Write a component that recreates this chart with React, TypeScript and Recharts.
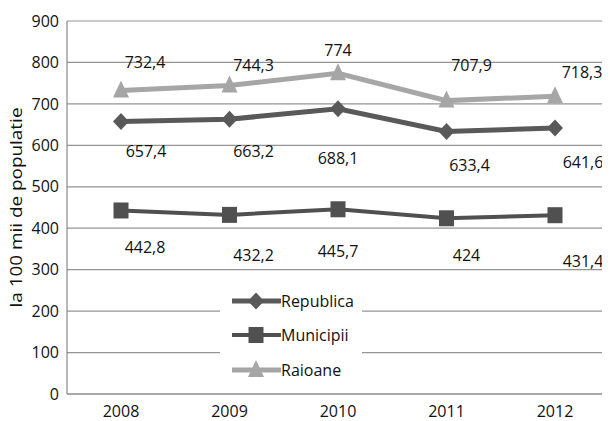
import {
  LineChart,
  Line,
  XAxis,
  YAxis,
  CartesianGrid,
  LabelList,
} from "recharts";

const years = ["2008", "2009", "2010", "2011", "2012"];
const republica = [657.4, 663.2, 688.1, 633.4, 641.6];
const municipii = [442.8, 432.2, 445.7, 424, 431.4];
const raioane = [732.4, 744.3, 774, 707.9, 718.3];
const yTicks = [0, 100, 200, 300, 400, 500, 600, 700, 800, 900];

const data = years.map((year, i) => ({
  year,
  republica: republica[i],
  municipii: municipii[i],
  raioane: raioane[i],
}));

// label nudges (dx, dy from the point)
const labelOffsets: Record<string, [number, number][]> = {
  raioane: [[24, -28], [24, -21], [0, -23], [25, -36], [27, -24]],
  republica: [[25, 29], [24, 32], [0, 49], [23, 34], [28, 34]],
  municipii: [[24, 37], [24, 40], [0, 42], [20, 37], [28, 46]],
};

const DARK = "#595959";
const MID = "#505050";
const LIGHT = "#a6a6a6";
const FONT = "'Open Sans', sans-serif";

const fmt = (v: number) => String(v).replace(".", ",");

const Marker = ({ kind, cx, cy, color }: { kind: string; cx: number; cy: number; color: string }) => {
  if (kind === "diamond") {
    return (
      <polygon
        points={`${cx},${cy - 8.5} ${cx + 8},${cy} ${cx},${cy + 8.5} ${cx - 8},${cy}`}
        fill={color}
      />
    );
  }
  if (kind === "square") {
    return <rect x={cx - 7.5} y={cy - 8} width={15} height={16} fill={color} />;
  }
  return (
    <polygon
      points={`${cx},${cy - 10} ${cx + 8},${cy + 7} ${cx - 8},${cy + 7}`}
      fill={color}
    />
  );
};

const dotFor = (kind: string, color: string) => (props: any) => (
  <Marker key={`${kind}-${props.index}`} kind={kind} cx={props.cx} cy={props.cy} color={color} />
);

const labelFor = (key: string) => (props: any) => {
  const [dx, dy] = labelOffsets[key][props.index];
  return (
    <text
      x={props.x + dx}
      y={props.y + dy}
      textAnchor="middle"
      dominantBaseline="central"
      fontSize={16}
      fontFamily={FONT}
      fill="#111"
    >
      {fmt(props.value)}
    </text>
  );
};

const legendItems = [
  { name: "Republica", kind: "diamond", color: DARK, width: 5 },
  { name: "Municipii", kind: "square", color: MID, width: 4 },
  { name: "Raioane", kind: "triangle", color: LIGHT, width: 5 },
];

// legend sits inside the plot, over the lower grid lines
const LegendBox = () => (
  <div
    style={{
      position: "absolute",
      left: 212,
      top: 272,
      background: "#fff",
      width: 142,
      height: 108,
    }}
  >
    {legendItems.map((item, i) => (
      <div
        key={item.name}
        style={{
          position: "absolute",
          left: 12,
          top: [21, 55, 90][i] - 12,
          height: 24,
          display: "flex",
          alignItems: "center",
        }}
      >
        <svg width={49} height={24} style={{ display: "block" }}>
          <line x1={0} y1={12} x2={48} y2={12} stroke={item.color} strokeWidth={item.width} strokeLinecap="round" />
          <Marker kind={item.kind} cx={24} cy={12} color={item.color} />
        </svg>
        <span style={{ fontFamily: FONT, fontSize: 16, color: "#111", lineHeight: "24px" }}>{item.name}</span>
      </div>
    ))}
  </div>
);

const YTitle = (props: any) => {
  const { viewBox } = props;
  const cx = 8;
  const cy = viewBox.y + viewBox.height / 2;
  return (
    <text
      x={cx}
      y={cy}
      transform={`rotate(-90 ${cx} ${cy})`}
      textAnchor="middle"
      dominantBaseline="central"
      fontSize={16}
      fontFamily={FONT}
      fill="#111"
      textLength={200}
      lengthAdjust="spacingAndGlyphs"
    >
      la 100 mii de populatie
    </text>
  );
};

export default function App() {
  return (
    <div style={{ position: "relative", width: 602, height: 413 }}>
      <LineChart
        width={602}
        height={413}
        data={data}
        margin={{ top: 13, right: 1, left: 0, bottom: 0 }}
      >
        <CartesianGrid vertical={false} stroke="#949494" strokeWidth={1.2} />
        <XAxis
          dataKey="year"
          height={27}
          padding={{ left: 54, right: 54 }}
          tickLine={false}
          axisLine={{ stroke: "#888", strokeWidth: 1.2 }}
          tickMargin={6}
          tick={{ fill: "#111", fontSize: 16, fontFamily: FONT }}
        />
        <YAxis
          width={59}
          domain={[0, 900]}
          ticks={yTicks}
          interval={0}
          tickLine={false}
          axisLine={{ stroke: "#888", strokeWidth: 1.2 }}
          tick={{ fill: "#111", fontSize: 16, fontFamily: FONT }}
          label={{ content: YTitle }}
        />
        <Line
          dataKey="raioane"
          name="Raioane"
          stroke={LIGHT}
          strokeWidth={5}
          dot={dotFor("triangle", LIGHT)}
          isAnimationActive={false}
        >
          <LabelList dataKey="raioane" content={labelFor("raioane")} />
        </Line>
        <Line
          dataKey="republica"
          name="Republica"
          stroke={DARK}
          strokeWidth={5}
          dot={dotFor("diamond", DARK)}
          isAnimationActive={false}
        >
          <LabelList dataKey="republica" content={labelFor("republica")} />
        </Line>
        <Line
          dataKey="municipii"
          name="Municipii"
          stroke={MID}
          strokeWidth={4}
          dot={dotFor("square", MID)}
          isAnimationActive={false}
        >
          <LabelList dataKey="municipii" content={labelFor("municipii")} />
        </Line>
      </LineChart>
      <LegendBox />
    </div>
  );
}
